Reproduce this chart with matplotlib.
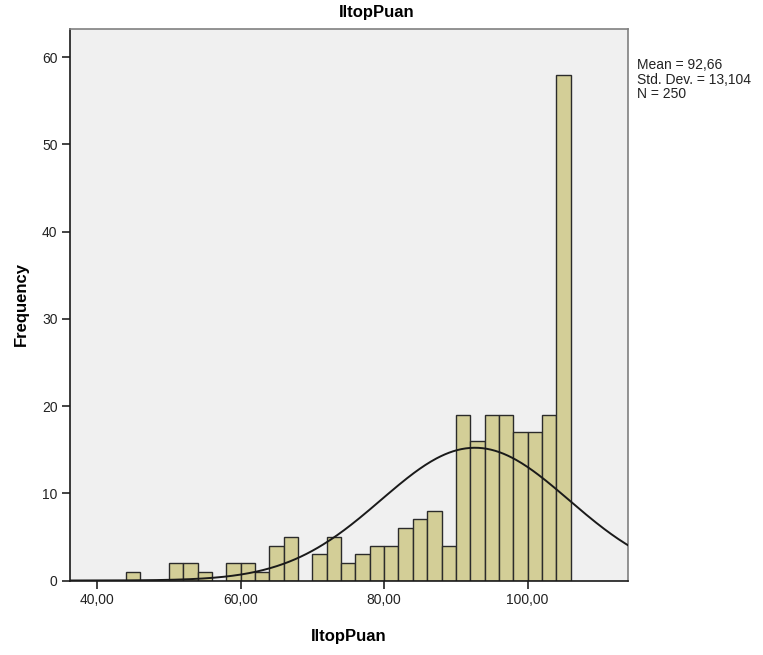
import numpy as np
import matplotlib
matplotlib.use('Agg')
import matplotlib.pyplot as plt

plt.rcParams['font.family'] = ['Liberation Sans', 'DejaVu Sans']

# Histogram data (bin width 2)
bin_left = [44, 46, 48, 50, 52, 54, 56, 58, 60, 62, 64, 66, 68, 70, 72, 74,
            76, 78, 80, 82, 84, 86, 88, 90, 92, 94, 96, 98, 100, 102, 104]
counts = [1, 0, 0, 2, 2, 1, 0, 2, 2, 1, 4, 5, 0, 3, 5, 2,
          3, 4, 4, 6, 7, 8, 4, 19, 16, 19, 19, 17, 17, 19, 58]
bin_width = 2.0

mean, sd, n = 92.66, 13.104, 250
x_ticks = [40, 60, 80, 100]
x_ticklabels = ['40,00', '60,00', '80,00', '100,00']
y_ticks = [0, 10, 20, 30, 40, 50, 60]

fig = plt.figure(figsize=(7.63, 6.55), dpi=100)
ax = fig.add_axes([70 / 763, 1 - 580.5 / 655, (628 - 70) / 763, (580.5 - 28.5) / 655])
ax.set_facecolor('#F0F0F0')

heights = np.array(counts)
lefts = np.array(bin_left)
mask = heights > 0
ax.bar(lefts[mask], heights[mask], width=bin_width, align='edge',
       color='#D3CE97', edgecolor='#2b2b2b', linewidth=1.0, zorder=2)

# normal curve
xs = np.linspace(36.2, 114.0, 400)
ys = n * bin_width / (sd * np.sqrt(2 * np.pi)) * np.exp(-0.5 * ((xs - mean) / sd) ** 2)
ax.plot(xs, ys, color='#1a1a1a', lw=1.4, zorder=3)

ax.set_xlim(36.2, 114.0)
ax.set_ylim(0, 63.3)
ax.set_xticks(x_ticks)
ax.set_xticklabels(x_ticklabels)
ax.set_yticks(y_ticks)
ax.tick_params(axis='both', direction='out', length=6, width=1.2,
               labelsize=10, colors='#222222', pad=3)

for side in ['left', 'bottom']:
    ax.spines[side].set_color('#1a1a1a')
    ax.spines[side].set_linewidth(1.2)
for side in ['top', 'right']:
    ax.spines[side].set_color('#808080')
    ax.spines[side].set_linewidth(1.2)

ax.set_xlabel('IltopPuan', fontsize=12, fontweight='bold', labelpad=16)
ax.set_ylabel('Frequency', fontsize=12, fontweight='bold', labelpad=9)
fig.text(377 / 763, 1 - 13 / 655, 'IltopPuan', fontsize=12, fontweight='bold',
         ha='center', va='center')

fig.text(637 / 763, 1 - 58 / 655,
         'Mean = 92,66\nStd. Dev. = 13,104\nN = 250',
         fontsize=10, ha='left', va='top', linespacing=1.05, color='#222222')

fig.savefig('out.png', dpi=100)
